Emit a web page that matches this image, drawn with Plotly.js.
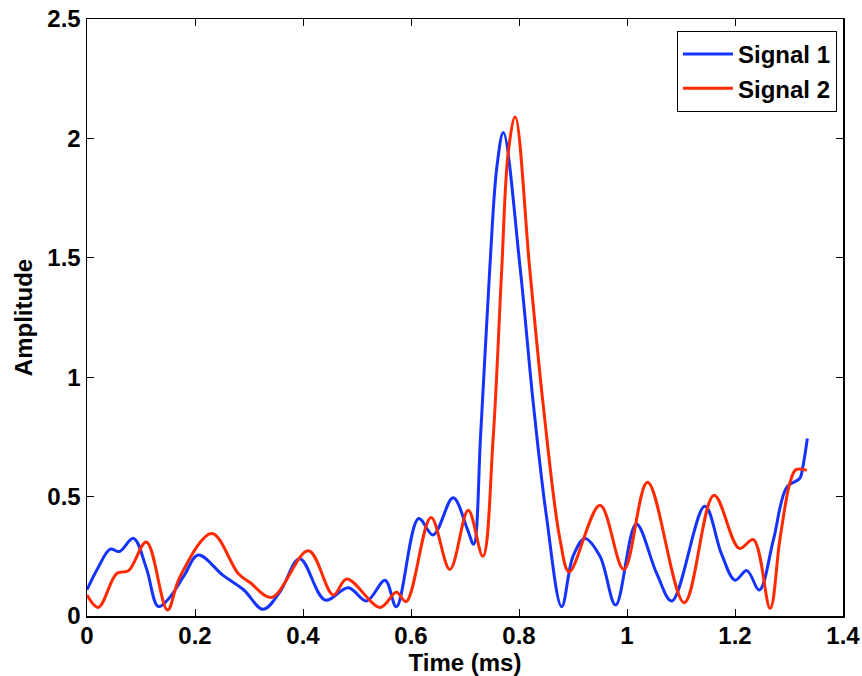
<!DOCTYPE html>
<html><head><meta charset="utf-8">
<script src="https://cdn.plot.ly/plotly-3.0.1.min.js"></script>
<style>html,body{margin:0;padding:0;background:#fff}#chart{width:862px;height:676px}</style>
</head><body><div id="chart"></div>
<script>
const blueX = [0,0.02,0.043,0.06,0.086,0.11,0.132,0.154,0.18,0.206,0.252,0.29,0.326,0.357,0.394,0.441,0.484,0.518,0.552,0.573,0.614,0.641,0.678,0.705,0.716,0.729,0.746,0.759,0.771,0.802,0.826,0.851,0.879,0.9,0.922,0.95,0.979,1.017,1.055,1.083,1.144,1.175,1.2,1.222,1.245,1.271,1.296,1.32,1.325,1.334];
const blueY = [0.11,0.2,0.28,0.27,0.325,0.2,0.04,0.08,0.17,0.255,0.17,0.11,0.028,0.1,0.24,0.067,0.118,0.063,0.15,0.039,0.408,0.339,0.495,0.36,0.3,0.76,1.46,1.88,2.025,1.46,0.9,0.415,0.039,0.25,0.325,0.25,0.046,0.385,0.178,0.063,0.46,0.26,0.15,0.19,0.109,0.318,0.54,0.576,0.617,0.743];
const redX = [0,0.021,0.055,0.077,0.11,0.149,0.172,0.231,0.28,0.302,0.342,0.41,0.456,0.481,0.543,0.573,0.591,0.637,0.672,0.706,0.733,0.752,0.768,0.78,0.793,0.82,0.845,0.876,0.893,0.95,0.994,1.038,1.106,1.161,1.208,1.234,1.265,1.283,1.302,1.313,1.333];
const redY = [0.088,0.036,0.178,0.19,0.31,0.025,0.164,0.346,0.178,0.14,0.078,0.273,0.088,0.155,0.036,0.099,0.06,0.413,0.195,0.443,0.25,0.74,1.45,1.94,2.09,1.45,0.88,0.32,0.185,0.464,0.195,0.56,0.056,0.506,0.283,0.32,0.032,0.318,0.56,0.613,0.61];
const names = ['Signal 1','Signal 2'];
const xTicks = [0,0.2,0.4,0.6,0.8,1,1.2,1.4];
const xTickText = ['0','0.2','0.4','0.6','0.8','1','1.2','1.4'];
const yTicks = [0,0.5,1,1.5,2,2.5];
const yTickText = ['0','0.5','1','1.5','2','2.5'];

const F = {family:'Liberation Sans, Arial, sans-serif', size:24, color:'#000', weight:'bold'};
const data = [
  {x:blueX, y:blueY, name:names[0], mode:'lines', line:{color:'#1533ff', width:3, shape:'spline', smoothing:1}},
  {x:redX, y:redY, name:names[1], mode:'lines', line:{color:'#ff2a00', width:3, shape:'spline', smoothing:1}}
];
const axisCommon = {showline:true, linecolor:'#000', linewidth:1.5, mirror:'ticks', ticks:'inside', ticklen:7, tickwidth:1, tickcolor:'#000', showgrid:false, zeroline:false, tickfont:F};
const layout = {
  width:862, height:676,
  margin:{l:87, r:19, t:19, b:60},
  paper_bgcolor:'#fff', plot_bgcolor:'#fff',
  showlegend:true,
  legend:{x:0.992, y:0.98, xanchor:'right', yanchor:'top', bgcolor:'#fff', bordercolor:'#000', borderwidth:1, font:F, tracegroupgap:0, itemwidth:50},
  xaxis:Object.assign({}, axisCommon, {range:[0,1.4], tickvals:xTicks, ticktext:xTickText, ticklabelstandoff:-2, title:{text:'Time (ms)', font:F, standoff:0}}),
  yaxis:Object.assign({}, axisCommon, {range:[0,2.5], tickvals:yTicks, ticktext:yTickText, title:{text:'Amplitude', font:F, standoff:8}})
};
Plotly.newPlot('chart', data, layout, {staticPlot:true, displayModeBar:false});
</script></body></html>
